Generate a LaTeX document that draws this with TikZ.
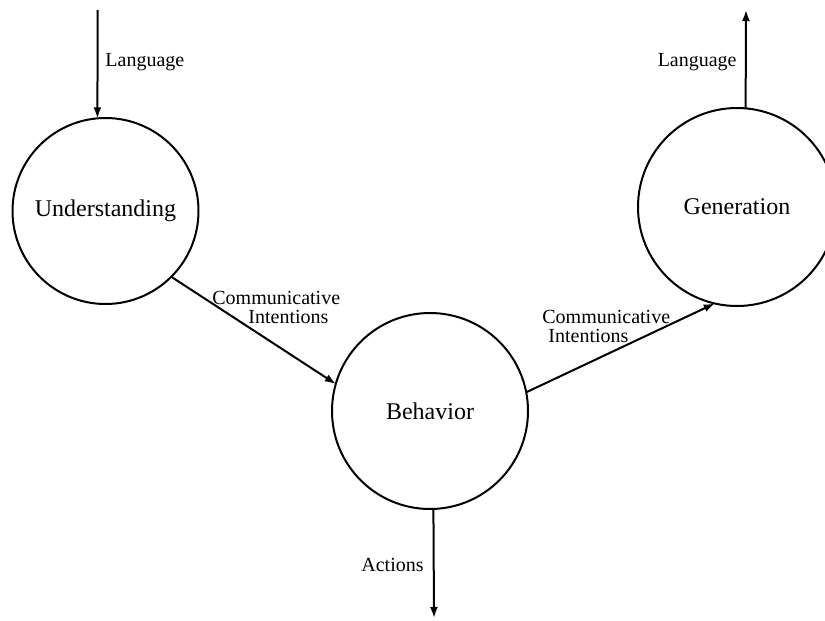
\documentclass[tikz,border=0pt]{standalone}
\usepackage{fontspec}
\setmainfont{Liberation Serif}
\usetikzlibrary{arrows.meta}
\begin{document}
\begin{tikzpicture}[x=0.5pt,y=-0.5pt,
  proc/.style={draw,circle,line width=1pt,inner sep=0pt,outer sep=0pt,font=\fontsize{12}{14}\selectfont},
  flow/.style={line width=1pt,-{Latex[length=5.5pt,width=4pt]}},
  lab/.style={inner sep=0pt,font=\fontsize{10}{9.5}\selectfont}]
\useasboundingbox (0,0) rectangle (825,621);
\clip (0,0) rectangle (825,621);
\node[proc,minimum size=93pt] (U) at (105.5,211) {Understanding};
\node[proc,minimum size=98pt] (B) at (430,411) {Behavior};
\node[proc,minimum size=99pt] (G) at (737,207) {Generation};
\coordinate (inL) at (97.7,10);
\coordinate (outL) at (746,10);
\coordinate (outA) at (434,618);
\draw[flow] (inL) -- (U.95);
\draw[flow] (U.-45) -- (B.164);
\draw[flow] (B.11) -- (G.257);
\draw[flow] (G.85) -- (outL);
\draw[flow] (B.-88) -- (outA);
\node[lab,anchor=west] (l1) at (105,62) {Language};
\node[lab,anchor=east] (l2) at (737,62) {Language};
\node[lab,anchor=east] (l3) at (424,565) {Actions};
\node[lab,anchor=west,align=left] (l4) at (212,307.5) {Communicative\\\hspace*{18pt}Intentions};
\node[lab,anchor=west,align=left] (l5) at (542,326) {Communicative\\\hspace*{3pt}Intentions};
\end{tikzpicture}
\end{document}
